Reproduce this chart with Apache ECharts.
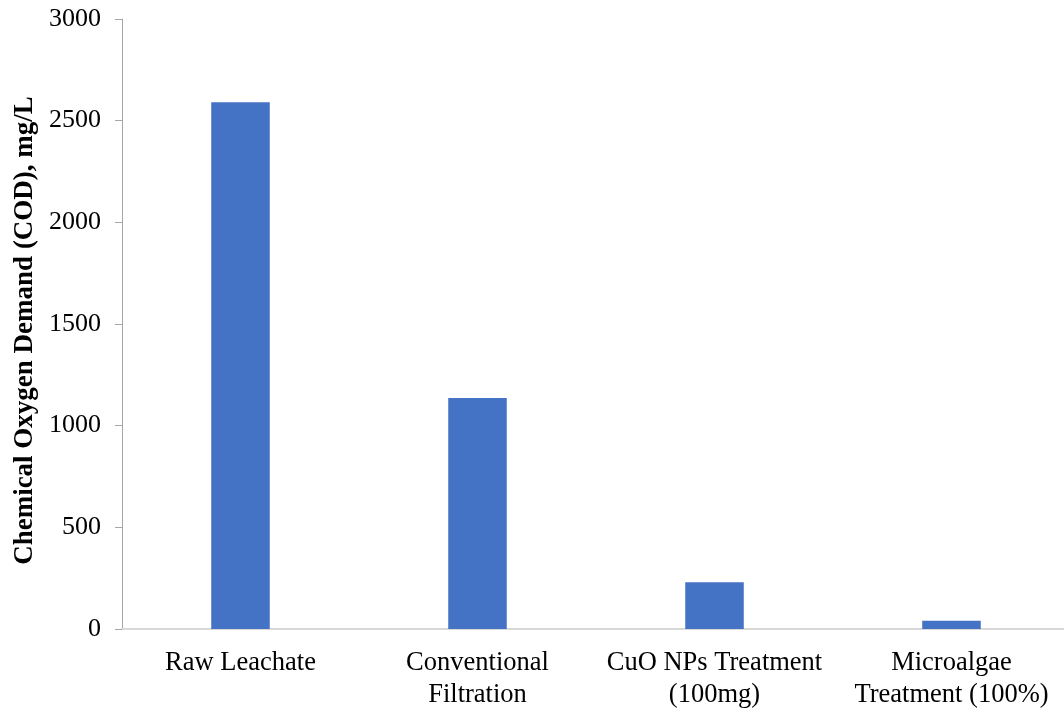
<!DOCTYPE html>
<html>
<head>
<meta charset="utf-8">
<script src="https://cdn.jsdelivr.net/npm/echarts@6/dist/echarts.min.js"></script>
<style>
html,body{margin:0;padding:0;background:#fff;}
#chart{width:1064px;height:709px;}
</style>
</head>
<body>
<div id="chart"></div>
<script>
const categories = ["Raw Leachate", "Conventional\nFiltration", "CuO NPs Treatment\n(100mg)", "Microalgae\nTreatment (100%)"];
const codValues = [2590, 1136, 230, 41];
const yAxisTitle = "Chemical Oxygen Demand (COD), mg/L";

const chart = echarts.init(document.getElementById('chart'), null, {renderer: 'canvas'});
const font = '"Liberation Serif", "Times New Roman", serif';
chart.setOption({
  animation: false,
  backgroundColor: '#ffffff',
  grid: {left: 122, right: -6, top: 19, bottom: 80, containLabel: false, outerBoundsMode: 'none'},
  xAxis: {
    type: 'category',
    data: categories,
    boundaryGap: true,
    axisLine: {show: true, lineStyle: {color: '#d9d9d9', width: 2}},
    axisTick: {show: false},
    axisLabel: {color: '#000', fontFamily: font, fontSize: 26.5, lineHeight: 32, margin: 18, interval: 0}
  },
  yAxis: {
    type: 'value',
    min: 0, max: 3000, interval: 500,
    name: yAxisTitle,
    nameLocation: 'middle',
    nameGap: 77,
    nameTextStyle: {color: '#000', fontFamily: font, fontSize: 27, fontWeight: 'bold', padding: [0, 13, 0, 0]},
    axisLine: {show: true, lineStyle: {color: '#a6a6a6', width: 1}},
    axisTick: {show: true, length: 7, lineStyle: {color: '#a6a6a6'}},
    axisLabel: {color: '#000', fontFamily: font, fontSize: 26, margin: 21, formatter: function (v) { return String(v); }},
    splitLine: {show: false}
  },
  series: [{
    type: 'bar',
    data: codValues,
    barWidth: '24.7%',
    itemStyle: {color: '#4472c4'}
  }]
});
</script>
</body>
</html>
